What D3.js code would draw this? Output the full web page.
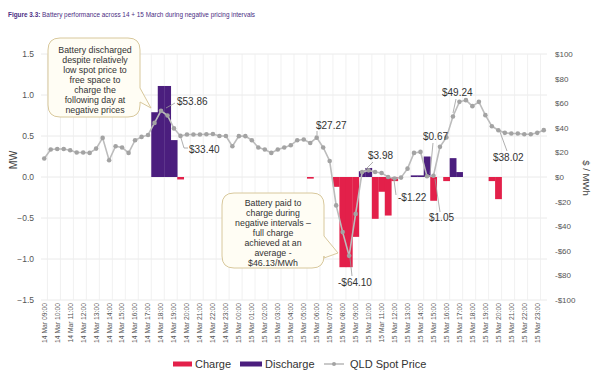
<!DOCTYPE html>
<html>
<head>
<meta charset="utf-8">
<script src="https://cdnjs.cloudflare.com/ajax/libs/d3/7.8.5/d3.min.js"></script>
<style>
body { margin: 0; background: #fff; }
text { font-family: "Liberation Sans", Arial, sans-serif; }
</style>
</head>
<body>
<svg id="chart" width="600" height="377"></svg>
<script>
// half hour intervals, 14 Mar 09:00 -> 15 Mar 23:30
const slots = [
  "14 Mar 09:00","14 Mar 09:30","14 Mar 10:00","14 Mar 10:30","14 Mar 11:00","14 Mar 11:30","14 Mar 12:00","14 Mar 12:30",
  "14 Mar 13:00","14 Mar 13:30","14 Mar 14:00","14 Mar 14:30","14 Mar 15:00","14 Mar 15:30","14 Mar 16:00","14 Mar 16:30",
  "14 Mar 17:00","14 Mar 17:30","14 Mar 18:00","14 Mar 18:30","14 Mar 19:00","14 Mar 19:30","14 Mar 20:00","14 Mar 20:30",
  "14 Mar 21:00","14 Mar 21:30","14 Mar 22:00","14 Mar 22:30","14 Mar 23:00","14 Mar 23:30",
  "15 Mar 00:00","15 Mar 00:30","15 Mar 01:00","15 Mar 01:30","15 Mar 02:00","15 Mar 02:30","15 Mar 03:00","15 Mar 03:30",
  "15 Mar 04:00","15 Mar 04:30","15 Mar 05:00","15 Mar 05:30","15 Mar 06:00","15 Mar 06:30","15 Mar 07:00","15 Mar 07:30",
  "15 Mar 08:00","15 Mar 08:30","15 Mar 09:00","15 Mar 09:30","15 Mar 10:00","15 Mar 10:30","15 Mar 11:00","15 Mar 11:30",
  "15 Mar 12:00","15 Mar 12:30","15 Mar 13:00","15 Mar 13:30","15 Mar 14:00","15 Mar 14:30","15 Mar 15:00","15 Mar 15:30",
  "15 Mar 16:00","15 Mar 16:30","15 Mar 17:00","15 Mar 17:30","15 Mar 18:00","15 Mar 18:30","15 Mar 19:00","15 Mar 19:30",
  "15 Mar 20:00","15 Mar 20:30","15 Mar 21:00","15 Mar 21:30","15 Mar 22:00","15 Mar 22:30","15 Mar 23:00","15 Mar 23:30"
]

// MW (negative = charge, positive = discharge)
const charge = [
  0,0,0,0,0,0,0,0,0,0,
  0,0,0,0,0,0,0,0,0,0,
  0,-0.03,0,0,0,0,0,0,0,0,
  0,0,0,0,0,0,0,0,0,0,
  0,-0.02,0,0,0,-0.12,-1.10,-1.10,-0.73,0,
  0,-0.51,-0.18,-0.47,-0.05,0,0,0,0,0,
  -0.29,0,-0.05,0,0,0,0,0,0,-0.05,
  -0.27,0,0,0,0,0,0,0
]
const discharge = [
  0,0,0,0,0,0,0,0,0,0,
  0,0,0,0,0,0,0,0.79,1.11,1.11,
  0.45,0,0,0,0,0,0,0,0,0,
  0,0,0,0,0,0,0,0,0,0,
  0,0,0,0,0,0,0,0,0,0.07,
  0.11,0,0,0,0,0,0,0.02,0.02,0.25,
  0,0,0,0.23,0.06,0,0,0,0,0,
  0,0,0,0,0,0,0,0
]
// QLD spot price $/MWh
const price = [
  15.0,22.3,22.8,22.8,21.8,19.9,19.9,19.6,23.1,31.8,
  13.6,25.0,24.0,19.6,29.9,32.6,34.2,44.0,53.86,50.0,
  39.5,33.4,34.5,34.5,34.5,34.8,34.9,33.3,33.3,25.0,
  33.2,33.2,29.9,24.0,22.3,19.6,22.3,24.0,25.8,29.9,
  30.5,27.7,32.0,24.0,13.0,-23.1,-44.8,-64.1,-30.0,3.98,
  5.4,4.1,3.3,0.0,-1.22,-0.5,6.8,19.6,20.4,0.67,
  1.05,24.5,32.1,49.24,61.1,62.5,57.6,61.1,50.3,41.3,
  38.02,35.9,35.4,35.4,34.8,34.8,35.9,38.1
]

const mwTicks = [-1.5, -1.0, -0.5, 0.0, 0.5, 1.0, 1.5]
const priceTicks = [-100, -80, -60, -40, -20, 0, 20, 40, 60, 80, 100]
const hourLabels = slots.filter(s => s.endsWith(":00"))

// labelled prices: slot index + text
const noteIdx = [18, 21, 42, 47, 49, 54, 59, 60, 63, 70]
const noteText = ["$53.86", "$33.40", "$27.27", "-$64.10", "$3.98", "-$1.22", "$0.67", "$1.05", "$49.24", "$38.02"]

const svg = d3.select("#chart")

const x = d3.scaleBand().domain(slots).range([41, 547]).padding(0)
const yMW = d3.scaleLinear().domain([-1.5, 1.5]).range([300, 54])
const yP = d3.scaleLinear().domain([-100, 100]).range([300, 54])
const bw = x.bandwidth()
const cx = (i) => x(slots[i]) + bw / 2

// title
svg.append("text")
  .attr("x", 8).attr("y", 17)
  .attr("font-size", "6.4px").attr("fill", "#4b2e83")
  .call(t => {
    t.append("tspan").attr("font-weight", "bold").text("Figure 3.3:")
    t.append("tspan").text(" Battery performance across 14 + 15 March during negative pricing intervals")
  })

// grid
svg.append("g").selectAll("line")
  .data(mwTicks).enter().append("line")
  .attr("x1", 41).attr("x2", 547)
  .attr("y1", d => yMW(d)).attr("y2", d => yMW(d))
  .attr("stroke", "#e4e4e4").attr("stroke-width", 0.8)

svg.append("g").selectAll("line")
  .data(hourLabels).enter().append("line")
  .attr("x1", d => x(d) + bw).attr("x2", d => x(d) + bw)
  .attr("y1", 54).attr("y2", 300)
  .attr("stroke", "#ededed").attr("stroke-width", 0.8)

// left axis
const left = svg.append("g")
  .attr("transform", "translate(38,0)")
  .call(d3.axisLeft(yMW).tickValues(mwTicks).tickFormat(d3.format(".1f")).tickSize(0).tickPadding(4))
left.select(".domain").remove()
left.selectAll("text").attr("font-size", "8.5px").attr("fill", "#555").attr("font-family", null)

// right axis
const right = svg.append("g")
  .attr("transform", "translate(551,0)")
  .call(d3.axisRight(yP).tickValues(priceTicks)
    .tickFormat(d => (d < 0 ? "-$" : "$") + Math.abs(d)).tickSize(0).tickPadding(4))
right.select(".domain").remove()
right.selectAll("text").attr("font-size", "8px").attr("fill", "#555").attr("font-family", null)

// x labels
svg.append("g").selectAll("text")
  .data(hourLabels).enter().append("text")
  .attr("transform", d => "translate(" + (x(d) + bw / 2) + ",303) rotate(-90)")
  .attr("text-anchor", "end")
  .attr("dy", "0.35em")
  .attr("font-size", "6.8px").attr("fill", "#555")
  .text(d => d)

// axis titles
svg.append("text")
  .attr("transform", "translate(13,160) rotate(-90)")
  .attr("text-anchor", "middle").attr("dy", "0.35em")
  .attr("font-size", "10.5px").attr("fill", "#444")
  .text("MW")
svg.append("text")
  .attr("transform", "translate(586,178) rotate(90)")
  .attr("text-anchor", "middle").attr("dy", "0.35em")
  .attr("font-size", "9.5px").attr("fill", "#444")
  .text("$ / MWh")

// bars
svg.append("g").selectAll("rect")
  .data(charge).enter().append("rect")
  .attr("x", (d, i) => x(slots[i]))
  .attr("width", d => d == 0 ? 0 : bw + 0.3)
  .attr("y", yMW(0))
  .attr("height", d => yMW(d) - yMW(0))
  .attr("fill", "#e3204a")

svg.append("g").selectAll("rect")
  .data(discharge).enter().append("rect")
  .attr("x", (d, i) => x(slots[i]))
  .attr("width", d => d == 0 ? 0 : bw + 0.3)
  .attr("y", d => yMW(d))
  .attr("height", d => yMW(0) - yMW(d))
  .attr("fill", "#4b1e7e")

// price line
const line = d3.line()
  .x((d, i) => cx(i))
  .y(d => yP(d))

svg.append("path")
  .datum(price)
  .attr("d", line)
  .attr("fill", "none")
  .attr("stroke", "#bcbcbc")
  .attr("stroke-width", 1.6)

svg.append("g").selectAll("circle")
  .data(price).enter().append("circle")
  .attr("cx", (d, i) => cx(i))
  .attr("cy", d => yP(d))
  .attr("r", 2.3)
  .attr("fill", "#a3a3a3")

// price labels + leader lines (offsets are layout only)
const noteTxt = [[177, 105], [189, 152.5], [316, 128.5], [338, 286], [368, 158.5], [398, 200.5], [423, 140], [429, 221], [442, 95.5], [493, 161]]
const noteLead = [[[166, 108], [175, 103]], [[181, 138], [184, 148], [188, 148]], [[317, 131], [317, 135]],
  [[350, 258], [352, 276]], [[373, 162], [364, 171]], [[394, 180], [396, 195]], [[433, 143], [430, 174]],
  [[435, 179], [440, 212]], [[456, 99], [453, 113]], [[507, 151], [500, 132]]]

noteIdx.forEach((idx, k) => {
  svg.append("path")
    .attr("d", d3.line()(noteLead[k]))
    .attr("fill", "none").attr("stroke", "#9a9a9a").attr("stroke-width", 0.8)
  svg.append("text")
    .attr("x", noteTxt[k][0]).attr("y", noteTxt[k][1])
    .attr("font-size", "10px").attr("fill", "#333")
    .text(noteText[k])
})

// callout boxes
const callout = (x0, y0, x1, y1, r, t1, t2, tip) =>
  "M" + (x0 + r) + "," + y0 + " H" + (x1 - r) + " Q" + x1 + "," + y0 + " " + x1 + "," + (y0 + r) +
  " V" + t1 + " L" + tip[0] + "," + tip[1] + " L" + x1 + "," + t2 +
  " V" + (y1 - r) + " Q" + x1 + "," + y1 + " " + (x1 - r) + "," + y1 +
  " H" + (x0 + r) + " Q" + x0 + "," + y1 + " " + x0 + "," + (y1 - r) +
  " V" + (y0 + r) + " Q" + x0 + "," + y0 + " " + (x0 + r) + "," + y0 + " Z"

const boxes = [
  { d: callout(48, 38, 140, 117, 12, 88, 102, [151, 108]), cx: 95, y: 53,
    lines: ["Battery discharged", "despite  relatively", "low spot price to", "free space to", "charge the", "following day at", "negative  prices"] },
  { d: callout(222, 193, 324, 268, 12, 236, 258, [338, 253]), cx: 273, y: 206,
    lines: ["Battery paid to", "charge during", "negative  intervals \u2013", "full  charge", "achieved at an", "average -", "$46.13/MWh"] }
]

boxes.forEach(b => {
  svg.append("path").attr("d", b.d)
    .attr("fill", "#fffdf4").attr("stroke", "#d8c89c").attr("stroke-width", 1)
  svg.append("g").selectAll("text")
    .data(b.lines).enter().append("text")
    .attr("x", b.cx).attr("y", (d, i) => b.y + i * 10)
    .attr("text-anchor", "middle")
    .attr("font-size", "8.8px").attr("fill", "#333")
    .text(d => d)
})

// legend
const lg = svg.append("g").attr("transform", "translate(0,364)")
lg.append("rect").attr("x", 173).attr("y", -2.5).attr("width", 19).attr("height", 5).attr("fill", "#e3204a")
lg.append("text").attr("x", 195).attr("y", 4).attr("font-size", "11px").attr("fill", "#333").text("Charge")
lg.append("rect").attr("x", 240).attr("y", -2.5).attr("width", 22).attr("height", 5).attr("fill", "#4b1e7e")
lg.append("text").attr("x", 265).attr("y", 4).attr("font-size", "11px").attr("fill", "#333").text("Discharge")
lg.append("line").attr("x1", 324).attr("x2", 344).attr("y1", 0).attr("y2", 0).attr("stroke", "#bcbcbc").attr("stroke-width", 1.6)
lg.append("circle").attr("cx", 334).attr("cy", 0).attr("r", 2).attr("fill", "#a3a3a3")
lg.append("text").attr("x", 350).attr("y", 4).attr("font-size", "11px").attr("fill", "#333").text("QLD Spot Price")
</script>
</body>
</html>
